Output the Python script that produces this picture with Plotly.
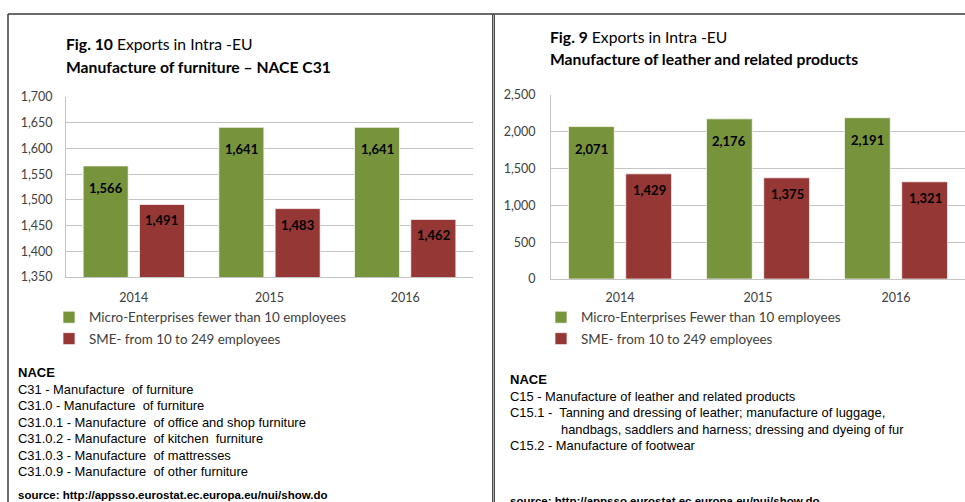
import plotly.graph_objects as go

# ---------------- data ----------------
years = ["2014", "2015", "2016"]
furn_micro = [1566, 1641, 1641]
furn_sme = [1491, 1483, 1462]
leather_micro = [2071, 2176, 2191]
leather_sme = [1429, 1375, 1321]

left_title1 = ("Fig. 10", " Exports in Intra -EU")
left_title2 = "Manufacture of furniture – NACE C31"
right_title1 = ("Fig. 9", " Exports in Intra -EU")
right_title2 = "Manufacture of leather and related products"

left_micro_name = "Micro-Enterprises fewer than 10 employees"
right_micro_name = "Micro-Enterprises Fewer than 10 employees"
sme_name = "SME- from 10 to 249 employees"

left_nace = [
    "C31 - Manufacture  of furniture",
    "C31.0 - Manufacture  of furniture",
    "C31.0.1 - Manufacture  of office and shop furniture",
    "C31.0.2 - Manufacture  of kitchen  furniture",
    "C31.0.3 - Manufacture  of mattresses",
    "C31.0.9 - Manufacture  of other furniture",
]
right_nace = [
    "C15 - Manufacture of leather and related products",
    "C15.1 -  Tanning and dressing of leather; manufacture of luggage,",
    "handbags, saddlers and harness; dressing and dyeing of fur",
    "C15.2 - Manufacture of footwear",
]
source_text = "source: http://appsso.eurostat.ec.europa.eu/nui/show.do"

# ---------------- style ----------------
W, H = 965, 502
GREEN = "#77933C"
RED = "#953735"
GRID = "#c4c4c4"
TICK = "#404040"
CAL = "Lato, Carlito, Calibri, sans-serif"
ARIAL = "Liberation Sans, Arial, sans-serif"


def px(x):
    return x / W


def py(y):
    return 1 - y / H


xpos = list(range(len(years)))  # category index positions

fig = go.Figure()

bar_line = dict(color="rgba(255,255,255,0.7)", width=1)
fig.add_trace(go.Bar(x=xpos, y=furn_micro, name=left_micro_name, marker=dict(color=GREEN, line=bar_line),
                     xaxis="x", yaxis="y", legend="legend", legendgroup="a"))
fig.add_trace(go.Bar(x=xpos, y=furn_sme, name=sme_name, marker=dict(color=RED, line=bar_line),
                     xaxis="x", yaxis="y", legend="legend", legendgroup="b"))
fig.add_trace(go.Bar(x=xpos, y=leather_micro, name=right_micro_name, marker=dict(color=GREEN, line=bar_line),
                     xaxis="x2", yaxis="y2", legend="legend2", legendgroup="c"))
fig.add_trace(go.Bar(x=xpos, y=leather_sme, name=sme_name, marker=dict(color=RED, line=bar_line),
                     xaxis="x2", yaxis="y2", legend="legend2", legendgroup="d"))

annotations = []


# data labels
def add_labels(xref, yref, micro, sme, shift):
    for xi, v in zip(xpos, micro):
        annotations.append(dict(x=xi, y=v, xref=xref, yref=yref, xshift=-shift, yshift=-22,
                                text=f"<b>{v:,}</b>", showarrow=False,
                                font=dict(family=CAL, size=13, color="#000")))
    for xi, v in zip(xpos, sme):
        annotations.append(dict(x=xi, y=v, xref=xref, yref=yref, xshift=shift, yshift=-16,
                                text=f"<b>{v:,}</b>", showarrow=False,
                                font=dict(family=CAL, size=13, color="#000")))


add_labels("x", "y", furn_micro, furn_sme, 28)
add_labels("x2", "y2", leather_micro, leather_sme, 29)


# titles
def title(x, y1, y2, t1, t2):
    annotations.append(dict(x=px(x), y=py(y1), xref="paper", yref="paper", xanchor="left", yanchor="middle",
                            text=f"<b>{t1[0]}</b>{t1[1]}", showarrow=False,
                            font=dict(family=CAL, size=15.7, color="#000")))
    annotations.append(dict(x=px(x), y=py(y2), xref="paper", yref="paper", xanchor="left", yanchor="middle",
                            text=f"<b>{t2}</b>", showarrow=False,
                            font=dict(family=CAL, size=15.7, color="#000")))


title(64, 44, 67, left_title1, left_title2)
title(548, 37, 59, right_title1, right_title2)


# NACE blocks
def text_line(x, y, t, bold=False, size=12.9):
    annotations.append(dict(x=px(x), y=py(y), xref="paper", yref="paper", xanchor="left", yanchor="middle",
                            text=f"<b>{t}</b>" if bold else t, showarrow=False,
                            font=dict(family=ARIAL, size=size, color="#000")))


text_line(16, 372, "NACE", bold=True, size=13)
for i, t in enumerate(left_nace):
    text_line(16, 389 + i * 16.5, t)
text_line(16, 495, source_text, bold=True, size=11.5)

text_line(508, 379, "NACE", bold=True, size=13)
text_line(508, 396, right_nace[0])
text_line(508, 412, right_nace[1])
text_line(559, 429, right_nace[2])
text_line(508, 445, right_nace[3])
text_line(508, 501, source_text, bold=True, size=11.5)

# frame lines
shapes = [
    dict(type="line", xref="paper", yref="paper", x0=px(8), x1=1, y0=py(14), y1=py(14),
         line=dict(color="#3a3a3a", width=1.5)),
    dict(type="line", xref="paper", yref="paper", x0=px(8), x1=px(8), y0=py(14), y1=0,
         line=dict(color="#3a3a3a", width=1.5)),
    dict(type="line", xref="paper", yref="paper", x0=px(493.5), x1=px(493.5), y0=py(14), y1=0,
         line=dict(color="#4a4a4a", width=3)),
    dict(type="line", xref="paper", yref="paper", x0=px(493.5), x1=px(493.5), y0=py(15), y1=0,
         line=dict(color="#b0b0b0", width=1)),
]

axis_common = dict(showline=True, linecolor=GRID, linewidth=1, zeroline=False, automargin=False,
                   tickfont=dict(family=CAL, size=12.5, color=TICK))

legend_common = dict(orientation="v", xanchor="left", yanchor="top", bgcolor="rgba(0,0,0,0)",
                     font=dict(family=CAL, size=13.4, color=TICK), tracegroupgap=1,
                     itemclick=False, itemdoubleclick=False)

fig.update_layout(
    width=W, height=H,
    margin=dict(l=0, r=0, t=0, b=0, pad=0, autoexpand=False),
    paper_bgcolor="white", plot_bgcolor="white",
    barmode="group", bargap=0.17, bargroupgap=0.2,
    showlegend=True,
    xaxis=dict(domain=[px(66), px(473)], anchor="y", range=[-0.5, 2.5], tickvals=xpos, ticktext=years,
               showgrid=False, ticks="", ticklabelstandoff=9, **axis_common),
    yaxis=dict(domain=[py(277), py(97)], anchor="x", range=[1350, 1700], dtick=50, tickformat=",d",
               showgrid=True, gridcolor=GRID, ticks="", ticklabelstandoff=10, **axis_common),
    xaxis2=dict(domain=[px(551), 1.0], anchor="y2", range=[-0.5, 2.5], tickvals=xpos, ticktext=years,
                showgrid=False, ticks="", ticklabelstandoff=7, **axis_common),
    yaxis2=dict(domain=[py(279), py(95)], anchor="x2", range=[0, 2500], dtick=500, tickformat=",d",
                showgrid=True, gridcolor=GRID, ticks="", ticklabelstandoff=12, **axis_common),
    legend=dict(x=px(49), y=py(302), **legend_common),
    legend2=dict(x=px(541), y=py(302), **legend_common),
    annotations=annotations,
    shapes=shapes,
)

fig.write_html("out.html", config={"displayModeBar": False},
               post_script="document.body.style.margin='0';document.body.style.overflow='hidden';")
